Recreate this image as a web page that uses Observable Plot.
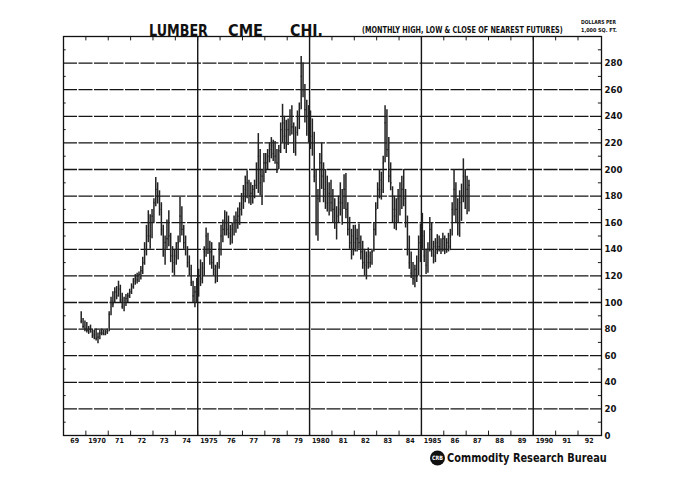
<!DOCTYPE html>
<html><head><meta charset="utf-8">
<script src="https://cdn.jsdelivr.net/npm/d3@7"></script>
<script src="https://cdn.jsdelivr.net/npm/@observablehq/plot@0.6"></script>
<style>
body{margin:0;background:#fff;}
#wrap{position:relative;width:694px;height:493px;overflow:hidden;background:#fff;}
#wrap svg.ann{position:absolute;left:0;top:0;pointer-events:none;}
</style></head><body>
<div id="wrap"></div>
<script>
// Monthly lumber futures (CME), starting October 1969
const startYear = 1969, startMonth = 9; // 0-based month index (October)

const highs = [
  93, 88, 86,
  85, 82, 83, 80, 79, 80, 77, 79, 80, 79, 79, 80,
  93, 104, 108, 111, 112, 116, 113, 107, 104, 106, 107, 110,
  114, 118, 121, 122, 123, 127, 134, 145, 158, 169, 166, 170,
  178, 194, 190, 184, 175, 158, 150, 162, 169, 152, 142, 140,
  145, 150, 179, 172, 158, 150, 142, 135, 128, 116, 112, 118,
  125, 132, 130, 142, 156, 152, 146, 145, 135, 128, 130, 145,
  158, 162, 169, 168, 165, 158, 160, 165, 168, 171, 175, 182,
  188, 195, 199, 192, 190, 188, 192, 205, 227, 215, 200, 212,
  212, 215, 220, 224, 222, 221, 215, 218, 235, 249, 240, 237,
  238, 245, 248, 235, 232, 244, 250, 285, 280, 264, 252, 248,
  244, 238, 228, 200, 185, 212, 220, 205, 200, 195, 190, 192,
  185, 178, 172, 180, 190, 185, 196, 197, 175, 164, 155, 158,
  158, 155, 159, 150, 146, 140, 138, 141, 138, 140, 160, 175,
  190, 200, 198, 210, 248, 245, 224, 205, 187, 180, 178, 185,
  190, 195, 200, 185, 165, 150, 138, 130, 128, 135, 150, 159,
  167, 154, 140, 145, 164, 160, 146, 148, 151, 150, 148, 152,
  150, 148, 152, 155, 175, 200, 190, 178, 184, 189, 208, 200,
  195, 192
];
const lows = [
  84, 80, 78,
  77, 76, 77, 73, 72, 71, 69, 72, 75, 75, 75, 76,
  78, 90, 96, 100, 102, 104, 100, 95, 93, 97, 100, 103,
  106, 110, 113, 114, 115, 117, 121, 128, 135, 145, 140, 148,
  160, 172, 174, 165, 150, 134, 128, 140, 142, 130, 122, 120,
  128, 132, 145, 150, 140, 135, 126, 120, 112, 100, 96, 100,
  104, 112, 114, 120, 134, 136, 128, 125, 120, 114, 115, 125,
  135, 145, 150, 150, 148, 143, 144, 150, 152, 155, 158, 165,
  170, 175, 178, 174, 173, 174, 178, 185, 182, 180, 173, 190,
  197, 200, 205, 208, 206, 204, 197, 200, 212, 220, 215, 212,
  218, 225, 226, 212, 210, 225, 230, 245, 254, 235, 225, 220,
  215, 210, 190, 150, 146, 175, 185, 175, 170, 168, 165, 168,
  160, 155, 147, 160, 165, 158, 170, 163, 150, 140, 132, 135,
  138, 138, 140, 132, 125, 120, 117, 125, 126, 128, 138, 150,
  170, 178, 177, 182, 205, 209, 190, 184, 160, 155, 154, 160,
  165, 170, 172, 156, 135, 125, 118, 113, 111, 115, 120, 130,
  140, 130, 121, 122, 138, 134, 129, 130, 136, 138, 136, 138,
  136, 137, 138, 139, 150, 165, 160, 150, 149, 161, 175, 170,
  166, 168
];
const closes = [
  86, 82, 80,
  79, 80, 78, 75, 76, 73, 74, 77, 77, 76, 78, 78,
  91, 100, 99, 108, 105, 110, 102, 97, 100, 103, 105, 108,
  112, 116, 118, 117, 121, 124, 130, 140, 150, 160, 150, 165,
  175, 185, 180, 170, 155, 140, 145, 148, 150, 135, 130, 135,
  140, 145, 165, 155, 145, 140, 130, 125, 115, 105, 108, 112,
  120, 118, 126, 138, 150, 140, 138, 130, 125, 120, 127, 140,
  150, 155, 160, 155, 152, 150, 155, 160, 162, 165, 170, 178,
  182, 185, 190, 180, 182, 185, 188, 200, 210, 190, 195, 205,
  205, 210, 215, 218, 212, 210, 205, 214, 230, 235, 225, 230,
  230, 240, 232, 220, 228, 238, 245, 270, 260, 245, 240, 235,
  225, 220, 195, 160, 178, 205, 195, 185, 180, 175, 182, 175,
  170, 160, 165, 175, 170, 175, 185, 170, 155, 145, 150, 140,
  145, 148, 145, 138, 130, 128, 130, 135, 130, 138, 155, 170,
  185, 192, 185, 205, 235, 215, 195, 190, 170, 165, 170, 178,
  180, 185, 178, 160, 140, 130, 122, 118, 125, 120, 145, 140,
  150, 135, 128, 140, 155, 140, 135, 142, 145, 142, 140, 148,
  140, 145, 142, 150, 170, 185, 170, 160, 175, 180, 195, 180,
  185, 188
];

const yearLabels = ["69","1970","71","72","73","74","1975","76","77","78","79","1980",
  "81","82","83","84","1985","86","87","88","89","1990","91","92"];
const yTickValues = [0,20,40,60,80,100,120,140,160,180,200,220,240,260,280];
const yGridValues = [20,40,60,80,100,120,140,160,180,200,220,240,260,280];
const yMinorValues = [10,30,50,70,90,110,130,150,170,190,210,230,250,270,290];
const gridYears = [1975, 1980, 1985, 1990];
const xDomain = [1969, 1993.05];
const yDomain = [0, 300];

const bars = highs.map((h, i) => ({
  t: startYear + (startMonth + i) / 12 + 1 / 24,
  high: h, low: lows[i], close: closes[i]
}));
const yearTicks = d3.range(1970, 1993);
const yearCenters = yearLabels.map((_, i) => 1969 + i + 0.5);

const narrow = "'Liberation Sans Narrow','DejaVu Sans Condensed','Roboto Condensed','Liberation Sans',Arial,sans-serif";

const chart = Plot.plot({
  width: 694, height: 493,
  marginLeft: 63, marginRight: 93, marginTop: 36, marginBottom: 58,
  x: {domain: xDomain, axis: null},
  y: {domain: yDomain, axis: null},
  style: {fontFamily: narrow, background: "white", color: "#111"},
  marks: [
    Plot.ruleY(yGridValues, {stroke: "#151515", strokeWidth: 1.3, strokeDasharray: "14,1.5"}),
    Plot.ruleX(gridYears, {stroke: "#151515", strokeWidth: 1.4}),
    Plot.ruleX(yearTicks, {y1: 0, y2: 3.3, stroke: "#1a1a1a", strokeWidth: 1}),
    Plot.ruleX(yearTicks, {y1: 300, y2: 296.7, stroke: "#1a1a1a", strokeWidth: 1}),
    Plot.ruleY(yMinorValues, {x1: xDomain[0], x2: xDomain[0] + 0.12, stroke: "#1a1a1a", strokeWidth: 1}),
    Plot.ruleY(yMinorValues, {x1: xDomain[1] - 0.14, x2: xDomain[1], stroke: "#1a1a1a", strokeWidth: 1}),
    Plot.ruleX(bars, {x: "t", y1: "low", y2: "high", stroke: "#222", strokeWidth: 1.5}),
    Plot.ruleY(bars, {y: "close", x1: "t", x2: d => d.t + 0.06, stroke: "#222", strokeWidth: 1.2}),
    Plot.frame({stroke: "#111", strokeWidth: 1.3}),
    Plot.axisY(yTickValues, {anchor: "right", tickSize: 0, tickPadding: 3, fontSize: 9.5, fontWeight: "bold", label: null}),
    Plot.axisX(yearCenters, {anchor: "bottom", tickSize: 0, tickPadding: 3, fontSize: 7, fontWeight: "bold", label: null,
      tickFormat: d => yearLabels[Math.round(d - 0.5) - 1969]})
  ]
});
const wrap = document.getElementById("wrap");
wrap.appendChild(chart);

const ns = "http://www.w3.org/2000/svg";
const ann = document.createElementNS(ns, "svg");
ann.setAttribute("class", "ann");
ann.setAttribute("width", 694);
ann.setAttribute("height", 493);
wrap.appendChild(ann);
// text fitted to a target width by horizontal scaling (keeps bounding box true)
function txt(s, x, y, size, len, opts = {}) {
  const t = document.createElementNS(ns, "text");
  t.textContent = s;
  t.setAttribute("x", 0); t.setAttribute("y", 0);
  t.setAttribute("font-size", size);
  t.setAttribute("font-weight", opts.weight || "bold");
  t.setAttribute("font-family", opts.family || narrow);
  t.setAttribute("fill", opts.fill || "#111");
  if (opts.anchor) t.setAttribute("text-anchor", opts.anchor);
  ann.appendChild(t);
  let sx = 1;
  if (len) {
    const w = t.getComputedTextLength();
    if (w > 0) sx = len / w;
  }
  t.setAttribute("transform", `translate(${x},${y}) scale(${sx},1)`);
  return t;
}
const heavy = "'DejaVu Sans','Liberation Sans',Arial,sans-serif";
txt("LUMBER", 149, 35.5, 15, 59, {family: heavy});
txt("CME", 228, 35.5, 15, 35, {family: heavy});
txt("CHI.", 290, 35.5, 15, 33, {family: heavy});
txt("(MONTHLY HIGH, LOW & CLOSE OF NEAREST FUTURES)", 362, 33.3, 9.5, 201);
txt("DOLLARS PER", 581, 24.3, 5.5, 35);
txt("1,000 SQ. FT.", 581, 31.5, 5.5, 36);
const c = document.createElementNS(ns, "circle");
c.setAttribute("cx", 437.5); c.setAttribute("cy", 458); c.setAttribute("r", 7.5); c.setAttribute("fill", "#111");
ann.appendChild(c);
txt("CRB", 437.5, 460.3, 6, 11, {fill: "#fff", anchor: "middle", family: heavy});
txt("Commodity Research Bureau", 447, 462, 11.5, 160, {family: heavy});
</script>
</body></html>
